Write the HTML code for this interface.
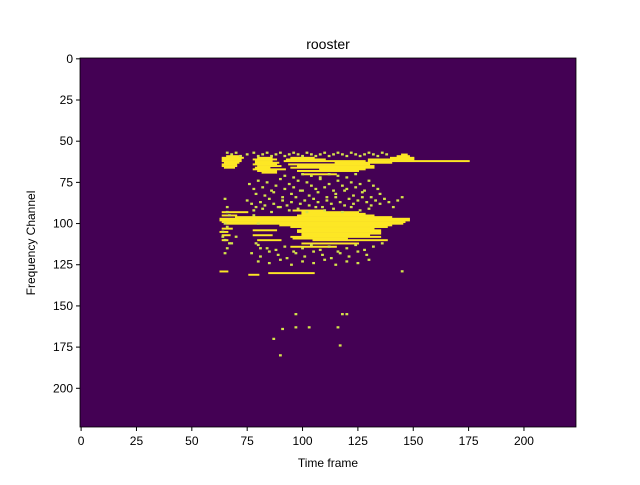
<!DOCTYPE html>
<html><head><meta charset="utf-8"><style>
html,body{margin:0;padding:0;background:#fff;}
svg text{font-family:"Liberation Sans",sans-serif;fill:#000;}
</style></head><body>
<svg id="chart" width="640" height="480">
<rect x="0" y="0" width="640" height="480" fill="#fff"/>
<text x="328" y="49" font-size="14" text-anchor="middle">rooster</text>
<g id="plot"></g>
<g id="axes"></g>
<text x="328" y="467" font-size="12" text-anchor="middle">Time frame</text>
<text transform="translate(35,243) rotate(-90)" font-size="12" text-anchor="middle">Frequency Channel</text>
</svg>
<script>
const nT = 224, nC = 224;
const xTicks = [0,25,50,75,100,125,150,175,200];
const yTicks = [0,25,50,75,100,125,150,175,200];
// solid streaks: [channel, tStart, tEnd]
const streakChannels = [59,60,61,62,63,64,65,66,
 60,61,62,63,64,65,66,67,68,69,
 60,61,62,63,64,65,66,67,68,70,
 62,61,60,59,58,
 93,94,95,96,97,98,99,100,101,102,103,104,105,106,107,108,109,110,112,114,
 93,95,103,105,107,110,
 104,107,110,
 129,130,131,92];
const streakStarts = [66,64,64,64,65,64,64,65,
 80,78,79,79,78,80,79,78,80,82,
 95,93,92,115,94,98,95,108,98,100,
 130,130,140,143,145,
 100,100,98,70,63,63,64,66,90,95,100,98,98,100,100,95,96,105,100,95,
 64,64,64,63,64,64,
 78,78,80,
 63,85,76,96];
const streakEnds = [71,73,72,72,71,70,70,69,
 86,88,86,89,88,90,85,92,88,88,
 105,110,128,140,130,132,132,128,125,115,
 175,150,150,148,147,
 125,128,132,140,148,148,146,145,140,138,132,135,135,135,130,135,120,138,125,115,
 75,70,68,66,67,66,
 88,86,90,
 66,105,80,110];
// scattered spikes
const spikeTimes = [66,68,70,72,75,78,80,82,84,86,88,90,92,94,96,98,100,102,104,106,108,110,112,114,116,118,120,122,124,126,128,130,132,134,136,138,
 65,66,67,64,65,66,68,70,75,77,79,81,83,85,87,89,91,93,95,97,99,101,103,105,107,109,111,113,115,117,119,121,123,125,127,129,131,133,135,137,139,141,143,145,
 76,78,80,82,84,86,88,90,92,94,96,98,100,102,104,106,108,110,112,114,116,118,120,122,124,126,128,130,132,134,
 77,81,85,89,93,97,101,105,109,113,117,121,125,129,
 80,84,88,92,96,100,104,108,112,116,120,124,128,132,136,145,
 79,83,87,91,95,99,103,107,111,115,119,123,127,131,135,
 78,82,86,90,94,98,102,106,110,114,118,122,126,130,
 80,85,90,95,100,105,110,115,120,125,130,
 92,96,100,104,108,112,116,120,124,
 65,66,64,67,65,66,78,80,79,81,
 97,91,97,103,116,120,118,87,90,117];
const spikeChans = [57,58,57,59,58,57,59,58,57,59,58,57,59,58,57,58,59,57,58,59,58,57,59,58,57,58,59,57,58,59,58,57,58,59,57,58,
 85,90,95,105,110,115,112,108,86,88,90,87,89,85,88,90,86,89,87,84,88,86,89,85,87,90,86,88,84,87,89,85,88,86,84,87,89,86,88,85,87,90,86,84,
 76,79,74,78,75,80,77,73,79,76,78,74,80,75,77,79,73,78,76,80,74,77,79,75,78,76,80,74,77,79,
 118,120,117,119,121,118,120,117,119,121,118,120,117,119,
 113,115,116,114,117,115,113,116,114,117,115,113,116,114,112,129,
 82,83,81,84,82,80,83,81,84,82,80,83,81,84,82,
 92,91,93,90,92,91,93,90,92,91,93,90,92,91,
 123,124,122,125,123,124,122,125,123,124,122,
 71,72,70,71,72,70,71,72,70,
 100,102,108,112,118,93,95,100,112,115,
 155,164,163,163,163,155,155,170,180,174];
const X0=80, Y0=58, W=496, H=369;
const cw=W/nT, ch=H/nC;
const xs = t => X0 + t*cw;
const ys = c => Y0 + c*ch;
const NS="http://www.w3.org/2000/svg";
const plot=document.getElementById('plot');
const axes=document.getElementById('axes');
const bg=document.createElementNS(NS,'rect');
bg.setAttribute('x',X0);bg.setAttribute('y',Y0);bg.setAttribute('width',W);bg.setAttribute('height',H);bg.setAttribute('fill','#440154');


plot.appendChild(bg);
for(let i=0;i<streakChannels.length;i++){
  const r=document.createElementNS(NS,'rect');
  r.setAttribute('x',xs(streakStarts[i]));r.setAttribute('y',ys(streakChannels[i]));
  r.setAttribute('width',(streakEnds[i]-streakStarts[i]+1)*cw);r.setAttribute('height',ch+0.3);
  r.setAttribute('fill','#fde725');
  
  
  plot.appendChild(r);
}
for(let i=0;i<spikeTimes.length;i++){
  const r=document.createElementNS(NS,'rect');
  r.setAttribute('x',xs(spikeTimes[i])-0.3);r.setAttribute('y',ys(spikeChans[i])-0.3);
  r.setAttribute('width',cw+0.6);r.setAttribute('height',ch+0.6);
  r.setAttribute('fill','#d4e24a');
  
  
  plot.appendChild(r);
}
const fr=document.createElementNS(NS,'rect');
fr.setAttribute('x',X0);fr.setAttribute('y',Y0);fr.setAttribute('width',W);fr.setAttribute('height',H);
fr.setAttribute('fill','none');fr.setAttribute('stroke','#000');fr.setAttribute('stroke-width','0.8');


axes.appendChild(fr);
xTicks.forEach(v=>{
  const x=xs(v+0.5);
  const l=document.createElementNS(NS,'line');
  l.setAttribute('x1',x);l.setAttribute('x2',x);l.setAttribute('y1',Y0+H);l.setAttribute('y2',Y0+H+4);l.setAttribute('stroke','#000');
  
  
  axes.appendChild(l);
  const t=document.createElementNS(NS,'text');
  t.setAttribute('x',x);t.setAttribute('y',Y0+H+18);t.setAttribute('font-size','12');t.setAttribute('text-anchor','middle');
  t.textContent=v;
  
  
  axes.appendChild(t);
});
yTicks.forEach(v=>{
  const y=ys(v+0.5);
  const l=document.createElementNS(NS,'line');
  l.setAttribute('x1',X0-4);l.setAttribute('x2',X0);l.setAttribute('y1',y);l.setAttribute('y2',y);l.setAttribute('stroke','#000');
  
  
  axes.appendChild(l);
  const t=document.createElementNS(NS,'text');
  t.setAttribute('x',X0-7);t.setAttribute('y',y+4);t.setAttribute('font-size','12');t.setAttribute('text-anchor','end');
  t.textContent=v;
  
  
  axes.appendChild(t);
});
</script>
</body></html>
